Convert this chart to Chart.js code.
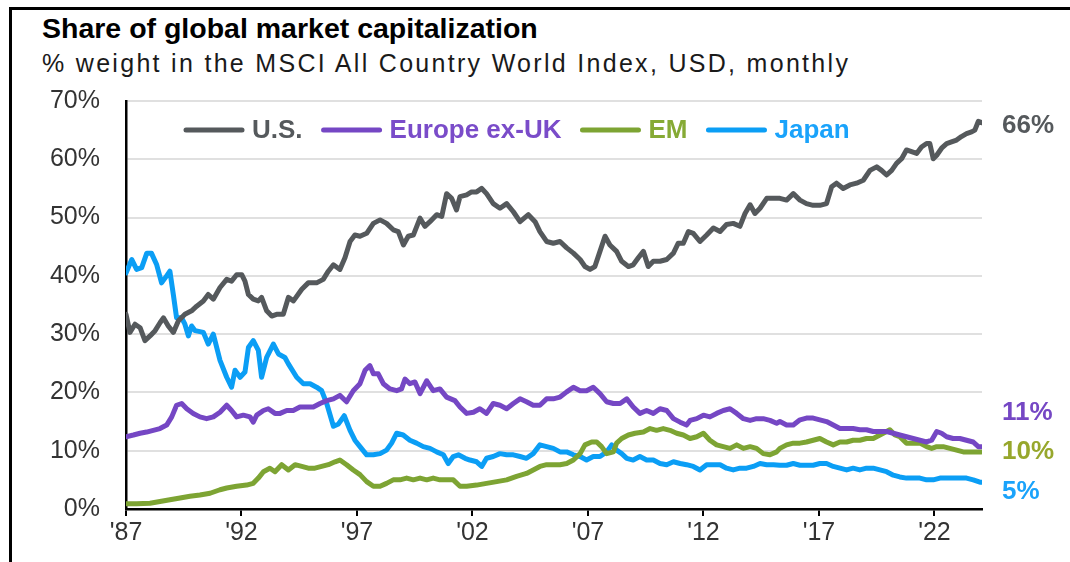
<!DOCTYPE html>
<html>
<head>
<meta charset="utf-8">
<script src="https://cdn.jsdelivr.net/npm/chart.js@4"></script>
<style>
  html, body { margin: 0; padding: 0; background: #fff; }
  body { width: 1070px; height: 562px; position: relative; overflow: hidden; font-family: "Liberation Sans", Arial, sans-serif; }
  .frame { position: absolute; left: 9px; top: 7px; right: -10px; bottom: -10px; border-top: 3px solid #000; border-left: 3px solid #000; }
  .title { position: absolute; left: 42px; top: 12px; font-size: 28.5px; line-height: 32px; font-weight: bold; color: #000; }
  .sub { position: absolute; left: 42px; top: 48px; font-size: 25px; line-height: 30px; color: #1a1a1a; letter-spacing: 2.3px; }
  .chart-box { position: absolute; left: 0; top: 80px; width: 1070px; height: 482px; }
</style>
</head>
<body>
<div class="frame"></div>
<div class="title">Share of global market capitalization</div>
<div class="sub">% weight in the MSCI All Country World Index, USD, monthly</div>
<div class="chart-box"><canvas id="chart"></canvas></div>

<script>
// tick labels (years on the x axis)
const tickYears = [1987, 1992, 1997, 2002, 2007, 2012, 2017, 2022];

// U.S.
const usDates = [1987.0, 1987.17, 1987.39, 1987.61, 1987.82, 1988.04, 1988.26, 1988.48, 1988.62, 1988.83,
  1989.05, 1989.27, 1989.55, 1989.84, 1990.06, 1990.35, 1990.56, 1990.78, 1991.07, 1991.36,
  1991.57, 1991.79, 1992.01, 1992.15, 1992.3, 1992.51, 1992.73, 1992.87, 1993.09, 1993.31,
  1993.52, 1993.81, 1994.03, 1994.25, 1994.61, 1994.89, 1995.25, 1995.54, 1995.76, 1995.98,
  1996.26, 1996.48, 1996.7, 1996.91, 1997.13, 1997.42, 1997.71, 1998.0, 1998.28, 1998.57,
  1998.79, 1999.01, 1999.22, 1999.44, 1999.73, 1999.94, 2000.16, 2000.45, 2000.67, 2000.88,
  2001.1, 2001.31, 2001.46, 2001.75, 2001.96, 2002.18, 2002.4, 2002.61, 2002.9, 2003.19,
  2003.48, 2003.77, 2004.06, 2004.42, 2004.71, 2004.92, 2005.21, 2005.5, 2005.79, 2006.08,
  2006.37, 2006.66, 2006.87, 2007.09, 2007.3, 2007.52, 2007.74, 2007.95, 2008.24, 2008.46,
  2008.75, 2008.96, 2009.18, 2009.4, 2009.61, 2009.83, 2010.12, 2010.41, 2010.7, 2010.91,
  2011.13, 2011.35, 2011.56, 2011.85, 2012.14, 2012.43, 2012.72, 2013.0, 2013.29, 2013.58,
  2013.8, 2014.02, 2014.23, 2014.45, 2014.74, 2015.03, 2015.31, 2015.6, 2015.89, 2016.18,
  2016.46, 2016.75, 2017.04, 2017.33, 2017.55, 2017.76, 2018.05, 2018.34, 2018.63, 2018.92,
  2019.21, 2019.5, 2019.71, 2019.93, 2020.15, 2020.36, 2020.58, 2020.79, 2021.01, 2021.23,
  2021.44, 2021.66, 2021.8, 2021.95, 2022.1, 2022.31, 2022.53, 2022.74, 2022.96, 2023.17,
  2023.39, 2023.61, 2023.75, 2023.9, 2024.04];
const usShare = [33.4, 30.3, 31.7, 31.1, 28.9, 29.7, 30.6, 32, 32.8, 31.4,
  30.3, 32.3, 33.4, 34, 34.8, 35.7, 36.8, 36, 38, 39.4,
  39.1, 40.2, 40.2, 39.1, 36.8, 36, 35.7, 36.3, 34, 33.1,
  33.4, 33.4, 36.3, 35.7, 37.7, 38.8, 38.8, 39.4, 40.8, 41.9,
  41.1, 43.1, 45.9, 47, 46.8, 47.3, 49, 49.6, 49, 47.9,
  47.6, 45.3, 46.8, 47, 49.9, 48.5, 49.3, 50.5, 50.2, 54.1,
  53.3, 51.3, 53.6, 53.9, 54.4, 54.4, 55, 54.1, 52.4, 51.6,
  52.4, 51, 49.3, 50.5, 49.3, 47.6, 45.9, 45.6, 45.9, 44.8,
  43.9, 42.8, 41.6, 41.1, 41.6, 44.2, 46.8, 45.3, 44.2, 42.5,
  41.6, 41.9, 43.1, 44.2, 41.6, 42.5, 42.5, 42.8, 43.9, 45.6,
  45.6, 47.6, 47.3, 45.9, 47, 48.2, 47.6, 48.8, 49, 48.5,
  50.7, 52.2, 50.7, 51.6, 53.3, 53.3, 53.3, 53, 54.1, 53,
  52.4, 52.1, 52.1, 52.4, 55.3, 55.9, 55, 55.6, 55.9, 56.4,
  58.1, 58.7, 58.1, 57.3, 58.1, 59.3, 60.1, 61.6, 61.3, 61,
  62.1, 62.7, 62.7, 60.1, 60.7, 61.9, 62.7, 63, 63.3, 63.9,
  64.4, 64.7, 65, 66.5, 66.3];

// Europe ex-UK
const europeDates = [1987.0, 1987.32, 1987.61, 1987.89, 1988.18, 1988.47, 1988.76, 1988.98, 1989.19, 1989.41,
  1989.63, 1989.91, 1990.2, 1990.49, 1990.78, 1991.07, 1991.36, 1991.57, 1991.79, 1992.08,
  1992.37, 1992.51, 1992.66, 1992.95, 1993.16, 1993.45, 1993.67, 1993.96, 1994.24, 1994.53,
  1994.82, 1995.11, 1995.4, 1995.69, 1995.98, 1996.26, 1996.55, 1996.84, 1997.13, 1997.35,
  1997.56, 1997.71, 1997.92, 1998.14, 1998.43, 1998.72, 1998.93, 1999.08, 1999.29, 1999.51,
  1999.73, 2000.02, 2000.3, 2000.59, 2000.88, 2001.24, 2001.46, 2001.75, 2002.04, 2002.32,
  2002.61, 2002.9, 2003.19, 2003.48, 2003.77, 2004.06, 2004.34, 2004.63, 2004.92, 2005.21,
  2005.5, 2005.79, 2006.08, 2006.37, 2006.66, 2006.94, 2007.23, 2007.52, 2007.81, 2008.1,
  2008.39, 2008.68, 2008.96, 2009.25, 2009.54, 2009.83, 2010.12, 2010.41, 2010.7, 2010.99,
  2011.27, 2011.42, 2011.71, 2012.0, 2012.28, 2012.57, 2012.86, 2013.15, 2013.44, 2013.73,
  2014.02, 2014.3, 2014.59, 2014.88, 2015.17, 2015.31, 2015.6, 2015.89, 2016.18, 2016.46,
  2016.75, 2017.04, 2017.33, 2017.62, 2017.91, 2018.2, 2018.48, 2018.77, 2019.06, 2019.35,
  2019.64, 2019.93, 2020.22, 2020.5, 2020.79, 2021.08, 2021.37, 2021.66, 2021.88, 2022.1,
  2022.31, 2022.53, 2022.81, 2023.1, 2023.39, 2023.68, 2023.9, 2024.04];
const europeShare = [12.4, 12.7, 13, 13.2, 13.5, 13.8, 14.4, 15.8, 17.8, 18.1,
  17.2, 16.4, 15.8, 15.5, 15.8, 16.6, 17.8, 16.9, 15.8, 16.1,
  15.8, 14.9, 16.1, 16.9, 17.2, 16.4, 16.4, 16.9, 16.9, 17.5,
  17.5, 17.5, 18.1, 18.6, 18.9, 19.5, 18.4, 20.3, 21.5, 23.8,
  24.6, 23.2, 23.2, 21.5, 20.6, 20.3, 20.6, 22.3, 21.5, 21.8,
  19.8, 22, 20.3, 20.6, 19.2, 18.6, 17.5, 16.4, 16.6, 17.2,
  16.4, 18.1, 17.8, 17.2, 18.1, 18.9, 18.4, 17.8, 17.8, 18.9,
  18.9, 19.2, 20.1, 20.9, 20.3, 20.3, 20.9, 19.8, 18.4, 18.1,
  18.1, 18.9, 17.5, 16.4, 16.9, 16.4, 17.2, 16.9, 15.5, 14.9,
  14.4, 15.2, 15.5, 16.1, 15.8, 16.4, 16.9, 17.2, 16.4, 15.5,
  15.2, 15.5, 15.5, 15.2, 14.7, 15, 14.4, 14.4, 15.3, 15.6,
  15.6, 15.3, 15, 14.4, 13.8, 13.8, 13.8, 13.6, 13.6, 13.3,
  13.3, 13.3, 13, 12.7, 12.4, 12.1, 11.8, 11.5, 11.8, 13.3,
  13, 12.4, 12.1, 12.1, 11.8, 11.5, 10.7, 10.7];

// EM
const emDates = [1987.0, 1987.46, 1988.04, 1988.47, 1988.9, 1989.34, 1989.77, 1990.2, 1990.64, 1991.07,
  1991.36, 1991.79, 1992.22, 1992.51, 1992.73, 1992.95, 1993.23, 1993.45, 1993.74, 1994.03,
  1994.32, 1994.61, 1994.89, 1995.18, 1995.47, 1995.76, 1996.05, 1996.26, 1996.55, 1996.84,
  1997.13, 1997.42, 1997.71, 1998.0, 1998.28, 1998.57, 1998.86, 1999.15, 1999.44, 1999.73,
  2000.02, 2000.3, 2000.59, 2000.88, 2001.17, 2001.46, 2001.75, 2002.18, 2002.61, 2003.05,
  2003.48, 2003.91, 2004.34, 2004.63, 2004.92, 2005.21, 2005.5, 2005.79, 2006.08, 2006.37,
  2006.66, 2006.87, 2007.16, 2007.38, 2007.59, 2007.81, 2008.1, 2008.24, 2008.46, 2008.75,
  2009.04, 2009.4, 2009.69, 2009.97, 2010.26, 2010.55, 2010.84, 2011.13, 2011.42, 2011.71,
  2012.0, 2012.28, 2012.57, 2012.86, 2013.15, 2013.44, 2013.73, 2014.02, 2014.3, 2014.59,
  2014.88, 2015.17, 2015.31, 2015.6, 2015.89, 2016.18, 2016.46, 2016.75, 2017.04, 2017.33,
  2017.62, 2017.91, 2018.2, 2018.48, 2018.77, 2019.06, 2019.35, 2019.64, 2019.93, 2020.07,
  2020.29, 2020.5, 2020.79, 2021.08, 2021.37, 2021.66, 2021.88, 2022.1, 2022.38, 2022.67,
  2022.96, 2023.25, 2023.61, 2024.04];
const emShare = [0.9, 0.9, 1, 1.3, 1.6, 1.9, 2.2, 2.4, 2.7, 3.3,
  3.6, 3.9, 4.1, 4.4, 5.3, 6.4, 7, 6.4, 7.6, 6.7,
  7.6, 7.3, 7, 7, 7.3, 7.6, 8.1, 8.4, 7.6, 6.7,
  5.9, 4.7, 3.9, 3.9, 4.4, 5, 5, 5.3, 5, 5.3,
  5, 5.3, 5, 5, 5, 3.9, 3.9, 4.1, 4.4, 4.7,
  5, 5.6, 6.1, 6.7, 7.3, 7.6, 7.6, 7.6, 7.8, 8.4,
  9.5, 11, 11.5, 11.5, 10.7, 9.5, 9.8, 11.3, 12.1, 12.7,
  13, 13.2, 13.8, 13.5, 13.8, 13.5, 13, 12.7, 12.1, 12.4,
  13, 11.8, 11, 10.7, 10.4, 11, 10.4, 10.7, 10.4, 9.5,
  9.3, 9.8, 10.4, 11, 11.3, 11.3, 11.5, 11.8, 12.1, 11.5,
  11, 11.5, 11.5, 11.8, 11.8, 12.1, 12.1, 12.7, 13.3, 13.6,
  12.7, 12.4, 11.3, 11.3, 11.3, 10.7, 10.4, 10.7, 10.7, 10.4,
  10.1, 9.8, 9.8, 9.8];

// Japan
const japanDates = [1987.0, 1987.25, 1987.46, 1987.68, 1987.9, 1988.1, 1988.33, 1988.54, 1988.76, 1988.9,
  1989.05, 1989.19, 1989.41, 1989.55, 1989.7, 1989.84, 1989.99, 1990.35, 1990.56, 1990.78,
  1991.07, 1991.36, 1991.57, 1991.72, 1991.94, 1992.15, 1992.3, 1992.51, 1992.73, 1992.87,
  1993.09, 1993.38, 1993.6, 1993.88, 1994.03, 1994.39, 1994.68, 1994.97, 1995.25, 1995.47,
  1995.69, 1995.98, 1996.2, 1996.45, 1996.7, 1996.91, 1997.13, 1997.42, 1997.71, 1998.0,
  1998.28, 1998.5, 1998.72, 1999.0, 1999.29, 1999.58, 1999.87, 2000.16, 2000.45, 2000.74,
  2000.95, 2001.17, 2001.39, 2001.68, 2001.89, 2002.18, 2002.4, 2002.61, 2002.9, 2003.19,
  2003.48, 2003.77, 2004.06, 2004.34, 2004.63, 2004.92, 2005.21, 2005.5, 2005.79, 2006.08,
  2006.37, 2006.66, 2006.94, 2007.23, 2007.52, 2007.81, 2008.03, 2008.24, 2008.46, 2008.68,
  2008.96, 2009.25, 2009.54, 2009.83, 2010.12, 2010.41, 2010.7, 2010.99, 2011.27, 2011.56,
  2011.85, 2012.14, 2012.43, 2012.72, 2013.0, 2013.29, 2013.58, 2013.87, 2014.16, 2014.45,
  2014.74, 2015.03, 2015.31, 2015.6, 2015.89, 2016.18, 2016.46, 2016.75, 2017.04, 2017.33,
  2017.62, 2017.91, 2018.2, 2018.48, 2018.77, 2019.06, 2019.35, 2019.64, 2019.93, 2020.22,
  2020.5, 2020.79, 2021.08, 2021.37, 2021.66, 2021.95, 2022.24, 2022.53, 2022.81, 2023.1,
  2023.39, 2023.68, 2023.97, 2024.04];
const japanShare = [40.5, 42.8, 41.1, 41.4, 43.9, 43.9, 41.9, 38.8, 40, 40.8,
  36.8, 32.8, 32.8, 31.7, 29.7, 31.4, 30.6, 30.3, 28.3, 30,
  25.5, 22.6, 20.9, 23.8, 22.6, 23.5, 27.7, 28.9, 27.2, 22.6,
  26, 28.3, 26.6, 26, 24.9, 22.6, 21.5, 21.5, 20.9, 20.3,
  18.1, 14.2, 14.6, 16, 13.5, 11.8, 10.7, 9.3, 9.3, 9.5,
  10.1, 11.3, 13, 12.7, 11.8, 11.3, 10.7, 10.4, 9.8, 9.3,
  7.8, 9, 9.3, 8.7, 8.4, 8.1, 7.3, 8.7, 9, 9.5,
  9.3, 9.3, 9, 8.7, 9.5, 11, 10.7, 10.4, 9.8, 9.8,
  9.3, 9, 8.4, 9, 9, 9.8, 11, 10.1, 9.5, 8.7,
  8.4, 9, 8.4, 8.4, 7.8, 7.6, 8.1, 7.8, 7.6, 7.3,
  6.7, 7.6, 7.6, 7.6, 7, 6.7, 7, 7, 7.3, 7.8,
  7.6, 7.6, 7.5, 7.5, 7.8, 7.5, 7.5, 7.5, 7.8, 7.8,
  7.3, 7, 6.7, 7, 6.7, 7, 7, 6.7, 6.4, 5.8,
  5.5, 5.3, 5.3, 5.3, 5, 5, 5.3, 5.3, 5.3, 5.3,
  5.3, 5, 4.6, 4.6];

const seriesNames = ['U.S.', 'Europe ex-UK', 'EM', 'Japan'];
const lineColors = ['#55595c', '#7547c4', '#7da433', '#0b9ef5'];
const textColors = ['#55595c', '#7a4cc9', '#86aa35', '#1aa3fb'];
const endLabelColors = ['#55595c', '#7547c4', '#97a72c', '#1aa3fb'];
// vertical nudges so the end labels do not collide
const endLabelNudge = [3, -34, 0, 10];

const FONT = '"Liberation Sans", Arial, sans-serif';

function toPoints(dates, values) {
  return dates.map((d, i) => ({ x: d, y: values[i] }));
}

const seriesData = [
  toPoints(usDates, usShare),
  toPoints(europeDates, europeShare),
  toPoints(emDates, emShare),
  toPoints(japanDates, japanShare)
];

// legend drawn inside the plot, near the top
const inlineLegend = {
  id: 'inlineLegend',
  afterDraw(chart) {
    const ctx = chart.ctx;
    const area = chart.chartArea;
    let x = area.left + 60;
    const y = area.top + 29;
    ctx.save();
    ctx.font = 'bold 26px ' + FONT;
    ctx.textBaseline = 'middle';
    ctx.lineCap = 'round';
    chart.data.datasets.forEach((ds, i) => {
      ctx.strokeStyle = ds.borderColor;
      ctx.lineWidth = 5;
      ctx.beginPath();
      ctx.moveTo(x, y);
      ctx.lineTo(x + 56, y);
      ctx.stroke();
      x += 66;
      ctx.fillStyle = textColors[i];
      ctx.fillText(ds.label, x, y + 1);
      x += ctx.measureText(ds.label).width + 21;
    });
    ctx.restore();
  }
};

// last value written at the right end of each line
const endLabels = {
  id: 'endLabels',
  afterDatasetsDraw(chart) {
    const ctx = chart.ctx;
    ctx.save();
    ctx.font = 'bold 26px ' + FONT;
    ctx.textBaseline = 'middle';
    chart.data.datasets.forEach((ds, i) => {
      const pts = chart.getDatasetMeta(i).data;
      const last = pts[pts.length - 1];
      const value = ds.data[ds.data.length - 1].y;
      ctx.fillStyle = endLabelColors[i];
      ctx.fillText(Math.round(value) + '%', chart.chartArea.right + 20, last.y + endLabelNudge[i]);
    });
    ctx.restore();
  }
};

const ctx = document.getElementById('chart').getContext('2d');
new Chart(ctx, {
  type: 'line',
  data: {
    datasets: seriesNames.map((name, i) => ({
      label: name,
      data: seriesData[i],
      borderColor: lineColors[i],
      backgroundColor: lineColors[i],
      borderWidth: 5,
      pointRadius: 0,
      tension: 0,
      borderJoinStyle: 'round',
      borderCapStyle: 'round'
    }))
  },
  options: {
    responsive: true,
    maintainAspectRatio: false,
    animation: false,
    devicePixelRatio: 1,
    layout: { padding: { top: 21, right: 88, bottom: 0, left: 0 } },
    plugins: {
      legend: { display: false },
      tooltip: { enabled: false }
    },
    scales: {
      x: {
        type: 'linear',
        min: 1987,
        max: 2024.06,
        afterBuildTicks: (scale) => { scale.ticks = tickYears.map(v => ({ value: v })); },
        afterFit: (scale) => {
          scale.height = 53;
          scale.paddingLeft = 0;
          scale.paddingRight = 0;
        },
        grid: { drawOnChartArea: false, drawTicks: true, tickLength: 7, color: '#000', lineWidth: 2 },
        border: { color: '#000', width: 2.5 },
        ticks: {
          color: '#333',
          font: { family: FONT, size: 25 },
          padding: 2,
          maxRotation: 0,
          autoSkip: false,
          callback: (v) => "'" + String(v).slice(2)
        }
      },
      y: {
        min: 0,
        max: 70,
        afterFit: (scale) => {
          scale.width = 126;
          scale.paddingTop = 0;
          scale.paddingBottom = 0;
        },
        grid: { color: '#e0e0e0', lineWidth: 2, drawTicks: false },
        border: { color: '#000', width: 2.5 },
        ticks: {
          stepSize: 10,
          color: '#333',
          font: { family: FONT, size: 25 },
          padding: 26,
          callback: (v) => v + '%'
        }
      }
    }
  },
  plugins: [inlineLegend, endLabels]
});
</script>
</body>
</html>
